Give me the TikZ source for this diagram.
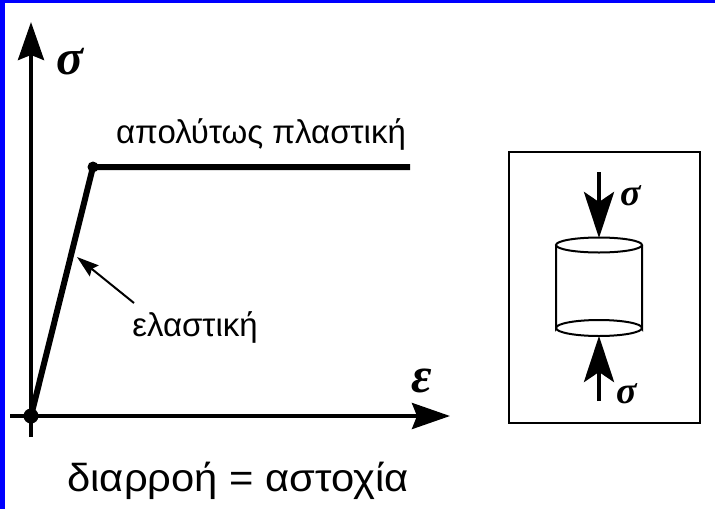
\documentclass[tikz,border=0pt]{standalone}
\usepackage{fontspec}
\setmainfont{Liberation Sans}
\newfontfamily\greekserif{Liberation Serif}
\usetikzlibrary{arrows.meta}

\tikzset{
  axis/.style={line width=3.8pt, -{Stealth[length=38pt,width=26pt,inset=5pt]}},
  curve/.style={line width=6pt, line join=round},
  dotmark/.style={circle, fill=black, inner sep=0pt, minimum size=#1},
  label/.style={font=\fontsize{33}{36}\selectfont, inner sep=0pt, anchor=base},
  caption/.style={font=\fontsize{39}{42}\selectfont, inner sep=0pt, anchor=base, xscale=1.07},
  symbol/.style={font=\greekserif\bfseries\itshape\fontsize{#1}{#1}\selectfont, inner sep=0pt},
  pointer/.style={line width=2pt, -{Stealth[length=22pt,width=14pt,inset=3pt]}},
  load/.style={line width=4.5pt, -{Stealth[length=46pt,width=30pt,inset=10pt]}},
  outline/.style={line width=2pt}
}

\begin{document}
\begin{tikzpicture}[x=1pt, y=-1pt]
  \useasboundingbox (0,0) rectangle (715,509);
  \fill[white] (0,0) rectangle (715,509);
  % frame strips
  \fill[blue] (0,0) rectangle (5,509);
  \fill[blue] (0,0) rectangle (715,3);

  % stress-strain axes
  \coordinate (ybot) at (31,437);
  \coordinate (ytop) at (31,22);
  \coordinate (xleft) at (10,416);
  \coordinate (xright) at (450,416);
  \draw[axis] (ybot) -- (ytop);
  \draw[axis] (xleft) -- (xright);
  \node[symbol=50] (sig) at (70,62) {σ};
  \node[symbol=50] (eps) at (422,381) {ε};

  % elastic - perfectly plastic curve
  \node[dotmark=15pt] (O) at (31,416) {};
  \node[dotmark=11pt] (Y) at (93,167) {};
  \coordinate (P) at (410,167);
  \draw[curve] (O.center) -- (Y.center) -- (P);

  \node[label] (plast) at (261,143) {απολύτως πλαστική};
  \node[label] (elast) at (195,336) {ελαστική};
  \coordinate (ptail) at (134,303);
  \coordinate (phead) at (77,257);
  \draw[pointer] (ptail) -- (phead);

  \node[caption] (crit) at (238,491) {διαρροή = αστοχία};

  % compressed specimen
  \node[draw, outline, minimum width=191pt, minimum height=271pt, inner sep=0pt] (box) at (604.5,287.5) {};
  \draw[outline] (556,245) -- (556,328) arc[start angle=180, end angle=360, x radius=43, y radius=8]
                 -- (642,245);
  \draw[outline] (599,245) ellipse[x radius=43, y radius=7.5];
  \draw[outline] (556,328) arc[start angle=180, end angle=0, x radius=43, y radius=8];
  \coordinate (ltop) at (599,172);
  \coordinate (ltopend) at (599,238);
  \coordinate (lbot) at (599,401);
  \coordinate (lbotend) at (599,336);
  \draw[load] (ltop) -- (ltopend);
  \draw[load] (lbot) -- (lbotend);
  \node[symbol=38] (stop) at (631,196) {σ};
  \node[symbol=38] (sbot) at (627,394) {σ};
\end{tikzpicture}
\end{document}
